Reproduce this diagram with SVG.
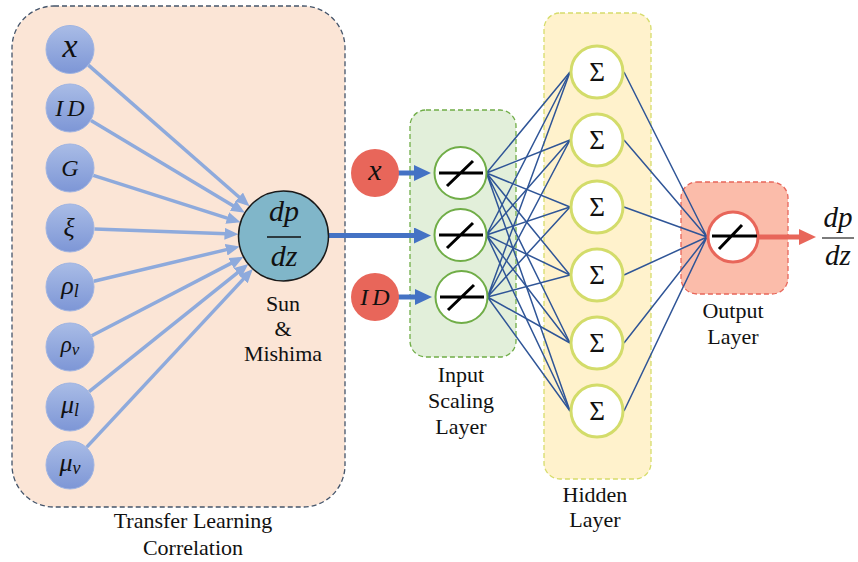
<svg xmlns="http://www.w3.org/2000/svg" width="858" height="562" viewBox="0 0 858 562">
  <defs>
    <linearGradient id="inGrad" x1="0" y1="0" x2="0" y2="1">
      <stop offset="0" stop-color="#a9bce6"/>
      <stop offset="1" stop-color="#7d96d6"/>
    </linearGradient>
    <marker id="headLight" markerUnits="userSpaceOnUse" markerWidth="16" markerHeight="12" refX="9" refY="6" orient="auto">
      <path d="M0,0 L14,6 L0,12 z" fill="#8eaadc"/>
    </marker>
    <marker id="headBlue" markerUnits="userSpaceOnUse" markerWidth="18" markerHeight="16" refX="10" refY="8" orient="auto">
      <path d="M0,0 L17,8 L0,16 z" fill="#4472c4"/>
    </marker>
    <marker id="headRed" markerUnits="userSpaceOnUse" markerWidth="18" markerHeight="16" refX="10" refY="8" orient="auto">
      <path d="M0,0 L17,8 L0,16 z" fill="#e8665a"/>
    </marker>
    <style>
      .lbl { font-family: 'Liberation Serif', 'DejaVu Serif', serif; font-size: 22px; fill: #111; text-anchor: middle; }
      .math { font-family: 'Liberation Serif', 'DejaVu Serif', serif; font-style: italic; fill: #111; text-anchor: middle; }
      .sig { font-family: 'Liberation Serif', 'DejaVu Serif', serif; font-size: 27px; fill: #111; text-anchor: middle; }
      .inNode { fill: url(#inGrad); stroke: #9fb4e2; stroke-width: 1; }
      .redNode { fill: #e8665a; }
      .scaleNode { fill: #fff; stroke: #70ad47; stroke-width: 2; }
      .hidNode { fill: #fff; stroke: #d3dc6a; stroke-width: 3; }
      .outNode { fill: #fff; stroke: #e8665a; stroke-width: 3; }
      .glyph { stroke: #000; stroke-width: 3; fill: none; }
      .light { stroke: #8eaadc; stroke-width: 3.5; fill: none; marker-end: url(#headLight); }
      .net { stroke: #2f5597; stroke-width: 1.5; fill: none; }
    </style>
  </defs>

  <!-- layer panels -->
  <g id="panels">
    <rect x="12" y="6" width="333" height="501" rx="42" fill="#fbe5d6" stroke="#44546a" stroke-width="1.3" stroke-dasharray="5,3"/>
    <rect x="410" y="110" width="106" height="247" rx="16" fill="#e2efda" stroke="#70ad47" stroke-width="1.3" stroke-dasharray="5,3"/>
    <rect x="544" y="13" width="107" height="466" rx="16" fill="#fff2cc" stroke="#d6dc6b" stroke-width="1.3" stroke-dasharray="5,3"/>
    <rect x="681" y="182" width="107" height="112" rx="16" fill="#fbbcaa" stroke="#e8665a" stroke-width="1.3" stroke-dasharray="5,3"/>
  </g>

  <!-- connectors -->
  <g id="connectors">
    <line class="light" x1="88.4" y1="65.1" x2="245.8" y2="203.0"/>
    <line class="light" x1="91.0" y1="120.6" x2="240.6" y2="210.3"/>
    <line class="light" x1="93.3" y1="175.4" x2="235.8" y2="220.8"/>
    <line class="light" x1="94.5" y1="228.9" x2="233.5" y2="234.1"/>
    <line class="light" x1="93.8" y1="281.3" x2="234.9" y2="247.6"/>
    <line class="light" x1="91.7" y1="335.7" x2="239.1" y2="259.1"/>
    <line class="light" x1="89.1" y1="391.7" x2="244.5" y2="267.2"/>
    <line class="light" x1="86.7" y1="447.1" x2="249.4" y2="272.6"/>

    <line x1="329" y1="235.5" x2="424" y2="235.5" stroke="#4472c4" stroke-width="5" marker-end="url(#headBlue)"/>
    <line x1="398" y1="173" x2="424" y2="173" stroke="#4472c4" stroke-width="5" marker-end="url(#headBlue)"/>
    <line x1="398" y1="297" x2="425" y2="297" stroke="#4472c4" stroke-width="5" marker-end="url(#headBlue)"/>
    <line x1="758" y1="237" x2="809" y2="237" stroke="#e8665a" stroke-width="5" marker-end="url(#headRed)"/>

    <!-- input scaling to hidden -->
    <path class="net" d="M486.5,173 L570,72 M486.5,173 L570,140 M486.5,173 L570,207 M486.5,173 L570,275 M486.5,173 L570,343 M486.5,173 L570,411"/>
    <path class="net" d="M486.5,235 L570,72 M486.5,235 L570,140 M486.5,235 L570,207 M486.5,235 L570,275 M486.5,235 L570,343 M486.5,235 L570,411"/>
    <path class="net" d="M487.5,297 L570,72 M487.5,297 L570,140 M487.5,297 L570,207 M487.5,297 L570,275 M487.5,297 L570,343 M487.5,297 L570,411"/>
    <!-- hidden to output -->
    <path class="net" d="M624,72 L707,237 M624,140 L707,237 M624,207 L707,237 M624,275 L707,237 M624,343 L707,237 M624,411 L707,237"/>
  </g>

  <!-- correlation inputs -->
  <g id="in-x"><circle class="inNode" cx="70" cy="49.5" r="24"/><text class="math" x="70" y="57" font-size="34">x</text></g>
  <g id="in-ID"><circle class="inNode" cx="70" cy="108" r="24"/><text class="math" x="72" y="116" font-size="24" letter-spacing="4">ID</text></g>
  <g id="in-G"><circle class="inNode" cx="70" cy="168" r="24"/><text class="math" x="70" y="176" font-size="24">G</text></g>
  <g id="in-xi"><circle class="inNode" cx="70" cy="228" r="24"/><text class="math" x="69" y="236" font-size="26">ξ</text></g>
  <g id="in-rho-l"><circle class="inNode" cx="70" cy="287" r="24"/><text class="math" x="70" y="294" font-size="26">ρ<tspan font-size="18" dy="3">l</tspan></text></g>
  <g id="in-rho-nu"><circle class="inNode" cx="70" cy="347" r="24"/><text class="math" x="70" y="352" font-size="23">ρ<tspan font-size="17" dy="3">ν</tspan></text></g>
  <g id="in-mu-l"><circle class="inNode" cx="70" cy="407" r="24"/><text class="math" x="70" y="413" font-size="26">μ<tspan font-size="18" dy="3">l</tspan></text></g>
  <g id="in-mu-nu"><circle class="inNode" cx="70" cy="465" r="24"/><text class="math" x="70" y="471" font-size="26">μ<tspan font-size="18" dy="3">ν</tspan></text></g>

  <!-- Sun & Mishima correlation node -->
  <g id="sun-mishima">
    <circle cx="283.5" cy="236" r="45" fill="#80b6c9" stroke="#1a1a1a" stroke-width="1.5"/>
    <text class="math" x="284" y="221" font-size="30">dp</text>
    <line x1="267" y1="237" x2="301" y2="237" stroke="#111" stroke-width="1.3"/>
    <text class="math" x="284" y="266" font-size="30">dz</text>
    <text class="lbl" x="283" y="311">Sun</text>
    <text class="lbl" x="283" y="336">&amp;</text>
    <text class="lbl" x="283" y="361">Mishima</text>
  </g>
  <g id="tl-label"><text class="lbl" x="193" y="528">Transfer Learning</text><text class="lbl" x="193" y="555">Correlation</text></g>

  <!-- direct network inputs -->
  <g id="net-x"><circle class="redNode" cx="375" cy="173" r="24"/><text class="math" x="375" y="180" font-size="30">x</text></g>
  <g id="net-ID"><circle class="redNode" cx="375" cy="297" r="24"/><text class="math" x="377" y="305" font-size="24" letter-spacing="4">ID</text></g>

  <!-- input scaling layer -->
  <g id="scale-1"><circle class="scaleNode" cx="460.5" cy="173" r="26"/><path class="glyph" d="M439,173 H483 M447,186 L473,161"/></g>
  <g id="scale-2"><circle class="scaleNode" cx="460.5" cy="235" r="26"/><path class="glyph" d="M439,235 H483 M447,248 L473,223"/></g>
  <g id="scale-3"><circle class="scaleNode" cx="461.5" cy="297" r="26"/><path class="glyph" d="M440,297 H484 M448,310 L474,285"/></g>
  <g id="scale-label"><text class="lbl" x="461" y="382">Input</text><text class="lbl" x="461" y="408">Scaling</text><text class="lbl" x="461" y="434">Layer</text></g>

  <!-- hidden layer -->
  <g id="hid-1"><circle class="hidNode" cx="597" cy="72" r="26"/><text class="sig" x="597" y="81">Σ</text></g>
  <g id="hid-2"><circle class="hidNode" cx="597" cy="140" r="26"/><text class="sig" x="597" y="149">Σ</text></g>
  <g id="hid-3"><circle class="hidNode" cx="597" cy="207" r="26"/><text class="sig" x="597" y="216">Σ</text></g>
  <g id="hid-4"><circle class="hidNode" cx="597" cy="275" r="26"/><text class="sig" x="597" y="284">Σ</text></g>
  <g id="hid-5"><circle class="hidNode" cx="597" cy="343" r="26"/><text class="sig" x="597" y="352">Σ</text></g>
  <g id="hid-6"><circle class="hidNode" cx="597" cy="411" r="26"/><text class="sig" x="597" y="420">Σ</text></g>
  <g id="hid-label"><text class="lbl" x="595" y="502">Hidden</text><text class="lbl" x="595" y="527">Layer</text></g>

  <!-- output layer -->
  <g id="out"><circle class="outNode" cx="733" cy="237" r="25"/><path class="glyph" d="M712,236 H757 M719,249 L742,225"/></g>
  <g id="out-label"><text class="lbl" x="733" y="318">Output</text><text class="lbl" x="733" y="344">Layer</text></g>
  <g id="out-value">
    <text class="math" x="838" y="227" font-size="29">dp</text>
    <line x1="822" y1="238" x2="854" y2="238" stroke="#333" stroke-width="1.3"/>
    <text class="math" x="838" y="265" font-size="29">dz</text>
  </g>
</svg>
